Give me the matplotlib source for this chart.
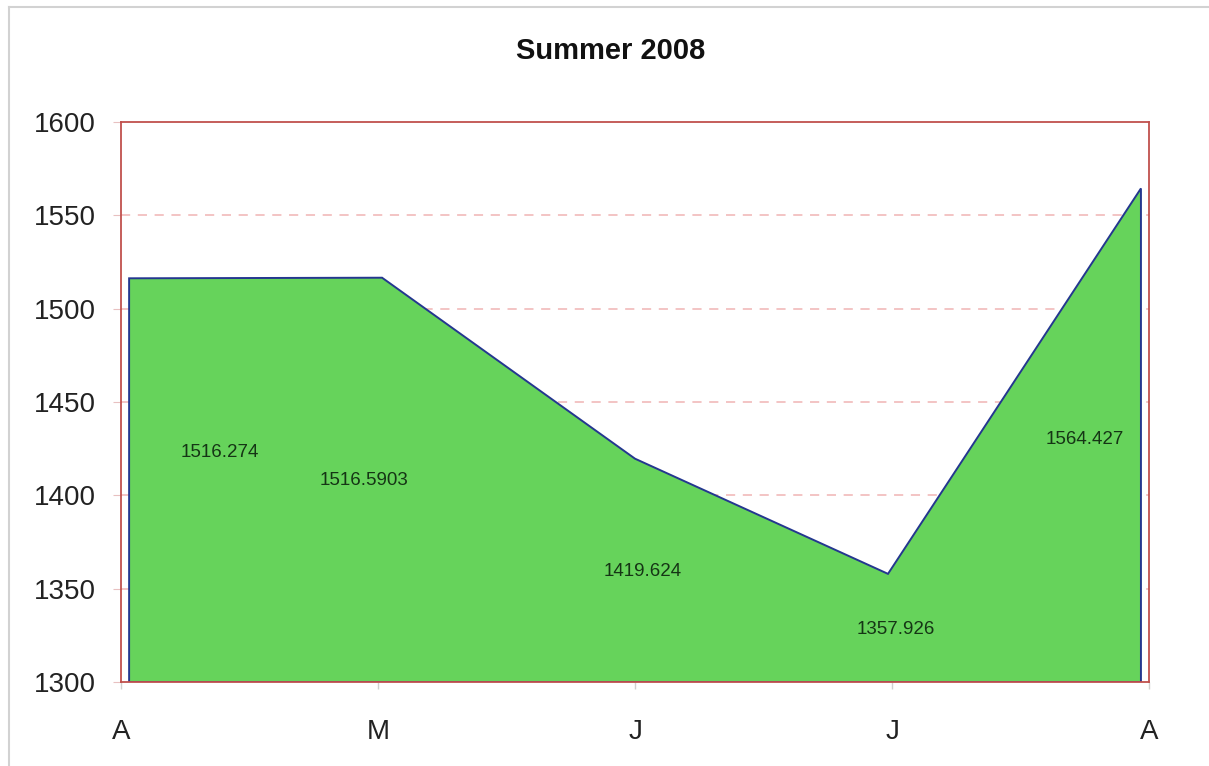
import matplotlib
matplotlib.use("Agg")
import matplotlib.pyplot as plt
import numpy as np

months = ["A", "M", "J", "J", "A"]
values = [1516.274, 1516.5903, 1419.624, 1357.926, 1564.427]
value_labels = ["1516.274", "1516.5903", "1419.624", "1357.926", "1564.427"]

# where excel dropped the data labels (category units, value units)
label_x = [0.36, 0.93, 2.03, 3.03, 3.78]
label_y = [1423, 1408, 1359, 1328, 1430]

COLORS = {
    "fill": "#66d35b",
    "edge": "#24378f",
    "frame": "#c0504d",
    "grid": "#f0b4b4",
    "label": "#153515",
}

plt.rcParams.update({
    "font.family": ["Liberation Sans", "DejaVu Sans"],
})

fig = plt.figure(figsize=(12.09, 7.66), dpi=100)
ax = fig.add_axes([0.1001, 0.1097, 0.8503, 0.7310])

x = np.arange(len(values))
base = 1300
xs = np.concatenate([[x[0]], x, [x[-1]]])
ys = np.concatenate([[base], values, [base]])
ax.fill(xs, ys, facecolor=COLORS["fill"], edgecolor=COLORS["edge"], linewidth=1.4, zorder=2)

for lx, ly, txt in zip(label_x, label_y, value_labels):
    ax.text(lx, ly, txt, ha="center", va="center", fontsize=13.5, color=COLORS["label"], zorder=3)

margin = 0.032
x0, x1 = x[0] - margin, x[-1] + margin
ax.set_xlim(x0, x1)
ax.set_ylim(1300, 1600)
ax.set_yticks(np.arange(1300, 1601, 50))
ax.set_xticks(np.linspace(x0, x1, len(months)))
ax.set_xticklabels(months)

for yv in np.arange(1350, 1600, 50):
    ax.axhline(yv, color=COLORS["grid"], linestyle=(0, (6, 5)), linewidth=1.1, zorder=1)

for s in ax.spines.values():
    s.set_color(COLORS["frame"])
    s.set_linewidth(1.3)
    s.set_zorder(4)

ax.tick_params(axis="y", length=6, width=0.8, color="#e8c0c0", pad=12, labelsize=20, labelcolor="#222222")
ax.tick_params(axis="x", length=5, width=1.0, color="#d0d0d0", pad=22, labelsize=20, labelcolor="#222222")

fig.text(0.505, 0.933, "Summer 2008", ha="center", va="center", fontsize=21, fontweight="bold", color="#111111")

# thin chart-area border at top and left
fig.add_artist(plt.Line2D([9 / 1209, 1.0], [1 - 7 / 766] * 2, transform=fig.transFigure, color="#d2d2d2", linewidth=1.5))
fig.add_artist(plt.Line2D([9 / 1209] * 2, [0.0, 1 - 7 / 766], transform=fig.transFigure, color="#d2d2d2", linewidth=1.5))

fig.savefig("out.png", dpi=100)
